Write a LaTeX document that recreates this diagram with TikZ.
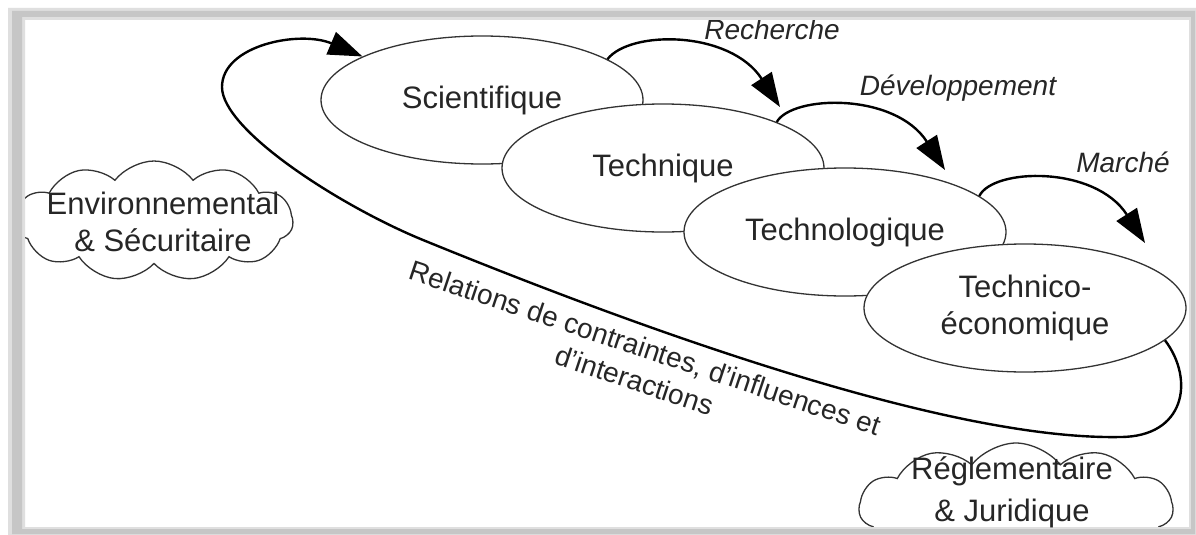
\documentclass[tikz,border=0pt]{standalone}
\usepackage{fontspec}
\setmainfont{Liberation Sans}
\usetikzlibrary{shapes.geometric,shapes.symbols,arrows.meta}
\tikzset{
  stage/.style={ellipse, draw=black!80, line width=1.3pt, fill=white,
    minimum width=322pt, minimum height=128pt, inner sep=0pt, align=center,
    font=\fontsize{31}{37}\selectfont, text=black!85},
  flow/.style={line width=2.4pt, -{Triangle[length=34pt,width=24pt]}},
  lbl/.style={font=\itshape\fontsize{28}{34}\selectfont, text=black!85, inner sep=0pt},
  puff/.style={cloud, cloud puffs=11, cloud puff arc=105, cloud ignores aspect,
    draw=black!80, line width=1.3pt, fill=white, inner sep=0pt,
    minimum width=278pt, minimum height=120pt},
  cloudtxt/.style={align=center, font=\fontsize{31}{37}\selectfont, text=black!85, inner sep=0pt}
}
\begin{document}
\begin{tikzpicture}[x=1pt,y=-1pt]
\useasboundingbox (0,0) rectangle (1196,535);
\fill[white] (0,0) rectangle (1196,535);
% clouds
\node[puff] (envc) at (154,221) {};
\node[cloudtxt] (envt) at (163,222) {Environnemental\\\& Sécuritaire};
\node[puff, minimum width=314pt, minimum height=130pt] (regc) at (1016,508) {};
% stages
\node[stage] (sci) at (482,100) {Scientifique};
\node[stage] (tec) at (663,168) {Technique};
\node[stage] (tgl) at (845,232) {Technologique};
\node[stage] (teco) at (1025,308) {Technico-\\économique};
% big loop
\draw[flow] (teco.-13) .. controls (1195,380) and (1185,437) .. (1120,437)
  .. controls (960,440) and (680,345) .. (423,240)
  .. controls (340,206) and (222,130) .. (222,87)
  .. controls (222,45) and (300,30) .. (sci.160);
% stage arrows
\coordinate (tipR) at (780,107);
\coordinate (tipD) at (945,170);
\coordinate (tipM) at (1145,243);
\draw[flow] (sci.18) .. controls (630,30) and (730,30) .. (tipR);
\draw[flow] (tec.22) .. controls (792,95) and (895,92) .. (tipD);
\draw[flow] (tgl.15) .. controls (993,168) and (1095,165) .. (tipM);
% labels
\node[lbl] (lR) at (772,29) {Recherche};
\node[lbl] (lD) at (958,88) {Développement};
\node[lbl] (lM) at (1123,162) {Marché};
\node[rotate=-18.5, align=center, font=\fontsize{28}{34}\selectfont, text=black!85, inner sep=0pt]
  (rel) at (640,364) {Relations de contraintes, d’influences et\\d’interactions};
% frame
\fill[gray!25, even odd rule] (8,8) rectangle (1196,535) (25,20) rectangle (1189,527);
\fill[gray!45, even odd rule] (12,11) rectangle (1195,534) (22,17) rectangle (1191,529);
\node[cloudtxt, font=\fontsize{31}{42}\selectfont] (regt) at (1012,492) {Réglementaire\\\& Juridique};
\end{tikzpicture}
\end{document}
